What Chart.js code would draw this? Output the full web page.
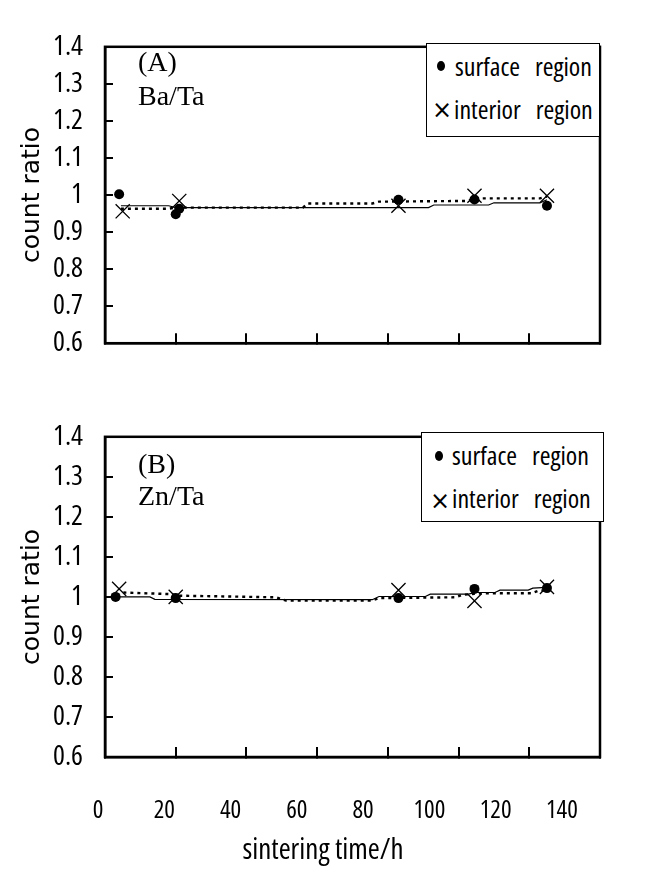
<!DOCTYPE html>
<html>
<head>
<meta charset="utf-8">
<script src="https://cdn.jsdelivr.net/npm/chart.js@4.4.1/dist/chart.umd.min.js"></script>
<style>
body { margin: 0; background: #fff; }
#wrap { position: relative; width: 646px; height: 871px; overflow: hidden; }
canvas { position: absolute; left: 0; }
.panel { position: absolute; left: 138px; font-family: "Liberation Serif", serif; font-size: 28px; line-height: 28px; color: #000; white-space: nowrap; }
.lbox { position: absolute; border: 1px solid #000; box-sizing: border-box; background: #fff; }
.ltxt { position: absolute; font-family: "Open Sans", sans-serif; font-stretch: condensed; font-size: 26px; line-height: 26px; word-spacing: 10px; color: #000; white-space: nowrap; }
.dot { position: absolute; width: 8px; height: 10px; border-radius: 50%; background: #000; }
.cross { position: absolute; width: 20px; height: 20px; line-height: 20px; text-align: center; font-family: "DejaVu Sans", sans-serif; font-size: 24px; color: #000; }
</style>
</head>
<body>
<div id="wrap">
  <canvas id="chartA" width="646" height="390" style="top:0px"></canvas>
  <canvas id="chartB" width="646" height="481" style="top:390px"></canvas>

  <div class="panel" style="top:48px">(A)</div>
  <div class="panel" style="top:82px">Ba/Ta</div>
  <div class="panel" style="top:450px">(B)</div>
  <div class="panel" style="top:482px">Zn/Ta</div>

  <div class="lbox" style="left:426px;top:43px;width:174px;height:94px"></div>
  <div class="dot" style="left:437px;top:61px"></div>
  <div class="ltxt" style="left:455px;top:53px">surface region</div>
  <div class="cross" style="left:432px;top:100px">×</div>
  <div class="ltxt" style="left:454px;top:96px">interior region</div>

  <div class="lbox" style="left:421px;top:432px;width:183px;height:90px"></div>
  <div class="dot" style="left:435px;top:451px"></div>
  <div class="ltxt" style="left:452px;top:442px">surface region</div>
  <div class="cross" style="left:430px;top:491px">×</div>
  <div class="ltxt" style="left:452px;top:485px">interior region</div>
</div>

<script>
// axis ticks
const xTicks = [0, 20, 40, 60, 80, 100, 120, 140];
const yTicks = [0.6, 0.7, 0.8, 0.9, 1.0, 1.1, 1.2, 1.3, 1.4];
const yTickLabels = ['0.6', '0.7', '0.8', '0.9', '1', '1.1', '1.2', '1.3', '1.4'];

// (A) Ba/Ta
const aSurfTime = [4, 20, 21, 83, 104.5, 125];
const aSurfRatio = [1.002, 0.948, 0.963, 0.987, 0.988, 0.971];
const aIntTime = [5, 21, 83, 104.5, 125];
const aIntRatio = [0.956, 0.984, 0.971, 0.998, 0.998];
// trend lines (solid = surface, dotted = interior)
const aSolidTime = [4.5, 18, 20, 91.5, 93, 108.5, 110, 123, 125];
const aSolidRatio = [0.971, 0.971, 0.966, 0.966, 0.973, 0.973, 0.979, 0.979, 0.987];
const aDotTime = [4.5, 18, 20, 56, 57.3, 75.6, 77.5, 102, 105.6, 123, 125];
const aDotRatio = [0.963, 0.963, 0.966, 0.966, 0.977, 0.977, 0.982, 0.984, 0.991, 0.991, 0.996];

// (B) Zn/Ta
const bSurfTime = [3, 20, 83, 104.5, 125];
const bSurfRatio = [1.0, 0.997, 0.997, 1.02, 1.022];
const bIntTime = [4, 20, 83, 104.5, 125];
const bIntRatio = [1.02, 1.0, 1.017, 0.99, 1.025];
const bSolidTime = [3.3, 12.7, 14.1, 75.6, 77.5, 90.6, 92, 102.8, 104.7, 110.3, 111.7, 119.7, 121, 124.9];
const bSolidRatio = [1.0, 1.0, 0.994, 0.993, 1.001, 1.001, 1.007, 1.007, 1.011, 1.011, 1.017, 1.017, 1.022, 1.024];
const bDotTime = [5.2, 18.3, 21.1, 48.4, 51.2, 75.6, 77.5, 99, 101, 106.5, 120.7, 122.5, 124.9];
const bDotRatio = [1.011, 1.007, 1.003, 0.999, 0.991, 0.991, 0.997, 0.999, 1.005, 1.009, 1.009, 1.015, 1.017];

const narrow = '"Open Sans", sans-serif';

function pts(xs, ys) {
    return xs.map((x, i) => ({x: x, y: ys[i]}));
}

// box round the plot area
const frame = {
    id: 'frame',
    afterDraw(chart) {
        const a = chart.chartArea, c = chart.ctx;
        c.save();
        c.strokeStyle = '#000';
        c.lineWidth = 2.5;
        c.strokeRect(a.left, a.top, a.right - a.left, a.bottom - a.top);
        c.restore();
    }
};

function makeChart(id, d, withLabels) {
    const scales = {
        x: {
            type: 'linear', position: 'bottom', min: 0, max: 140, weight: 0,
            afterBuildTicks: s => { s.ticks = xTicks.map(v => ({value: v})); },
            afterFit: s => { s.height = 0; },
            ticks: {display: false},
            grid: {drawOnChartArea: false, tickLength: -10, color: '#000', lineWidth: 2},
            border: {color: '#000', width: 2.5}
        },
        y: {
            min: 0.6, max: 1.4,
            afterBuildTicks: s => { s.ticks = yTicks.map(v => ({value: v})); },
            afterFit: s => { s.width = 105; },
            ticks: {
                callback: (v, i) => yTickLabels[i],
                font: {family: narrow, weight: 'condensed', size: 28}, color: '#000', padding: 30
            },
            grid: {drawOnChartArea: false, tickLength: -8, color: '#000', lineWidth: 2},
            border: {color: '#000', width: 2.5},
            title: {
                display: true, text: 'count ratio', color: '#000',
                font: {family: '"DejaVu Sans", sans-serif', size: 25, lineHeight: 1.2},
                padding: {top: 17, bottom: 0}
            }
        },
        // empty right margin
        yr: {
            position: 'right', min: 0.6, max: 1.4,
            afterFit: s => { s.width = 46; },
            ticks: {display: false},
            grid: {display: false, drawTicks: false},
            border: {display: false}
        }
    };
    if (withLabels) {
        // label row printed under the lower panel
        scales.xl = {
            type: 'linear', position: 'bottom', min: 2.1, max: 151.5, weight: 1,
            afterBuildTicks: s => { s.ticks = xTicks.map(v => ({value: v})); },
            afterFit: s => { s.height = 76.2; },
            ticks: {font: {family: narrow, weight: 'condensed', size: 25}, color: '#000', padding: 39, autoSkip: false},
            grid: {display: false, drawTicks: false},
            border: {display: false}
        };
    }
    return new Chart(document.getElementById(id), {
        type: 'scatter',
        data: {
            datasets: [
                {label: 'surface region', data: pts(d.sx, d.sy), pointStyle: 'circle', pointRadius: 5,
                    backgroundColor: '#000', borderColor: '#000', borderWidth: 0, showLine: false},
                {label: 'interior region', data: pts(d.ix, d.iy), pointStyle: 'crossRot', pointRadius: 10,
                    borderColor: '#000', backgroundColor: '#000', borderWidth: 1.3, showLine: false},
                {label: 'surface trend', data: pts(d.lx, d.ly), showLine: true, pointRadius: 0,
                    borderColor: '#000', borderWidth: 1.2, tension: 0},
                {label: 'interior trend', data: pts(d.dx, d.dy), showLine: true, pointRadius: 0,
                    borderColor: '#000', borderWidth: 2.4, borderDash: [3, 4], tension: 0}
            ]
        },
        options: {
            responsive: false,
            animation: false,
            layout: {padding: withLabels ? {left: 0, right: 0, top: 24, bottom: 3} : {left: 0, right: 0, top: 21.5, bottom: 23}},
            plugins: {
                legend: {display: false},
                tooltip: {enabled: false},
                title: {
                    display: withLabels, position: 'bottom', text: 'sintering time/h', color: '#000',
                    font: {family: narrow, weight: 'condensed', size: 29, lineHeight: 1.2},
                    padding: 0
                }
            },
            scales: scales
        },
        plugins: [frame]
    });
}

makeChart('chartA', {sx: aSurfTime, sy: aSurfRatio, ix: aIntTime, iy: aIntRatio,
    lx: aSolidTime, ly: aSolidRatio, dx: aDotTime, dy: aDotRatio}, false);
makeChart('chartB', {sx: bSurfTime, sy: bSurfRatio, ix: bIntTime, iy: bIntRatio,
    lx: bSolidTime, ly: bSolidRatio, dx: bDotTime, dy: bDotRatio}, true);
</script>
</body>
</html>
